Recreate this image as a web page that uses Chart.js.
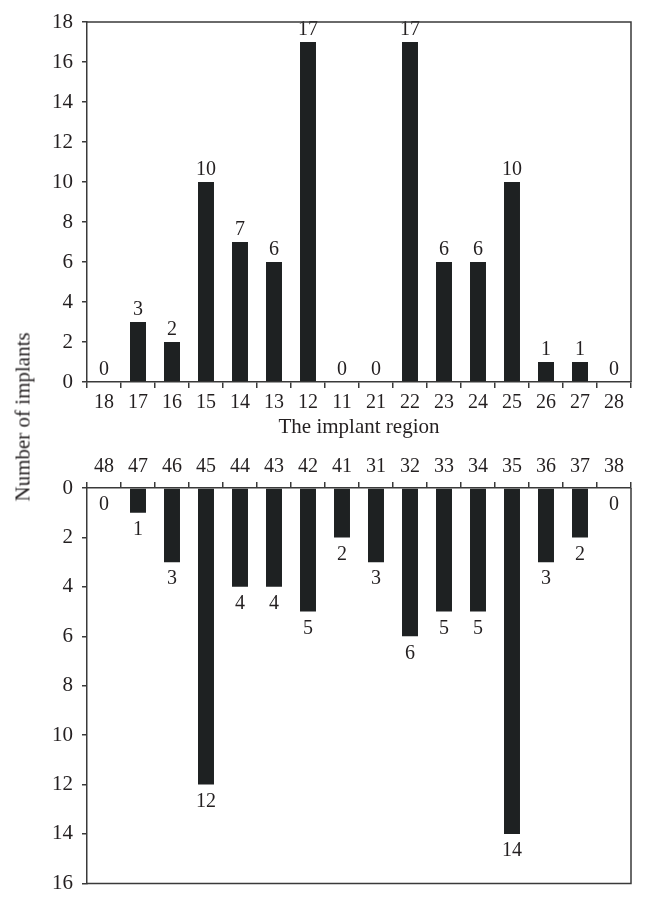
<!DOCTYPE html>
<html>
<head>
<meta charset="utf-8">
<script src="https://cdn.jsdelivr.net/npm/chart.js@4/dist/chart.umd.min.js"></script>
<style>
  html, body { margin:0; padding:0; background:#fff; }
  #wrap { position:relative; width:646px; height:905px; overflow:hidden; }
  #top { position:absolute; left:0; top:0; width:646px; height:445px; }
  #bot { position:absolute; left:0; top:445px; width:646px; height:460px; }
  #ytitle { position:absolute; left:23px; top:417px; transform:translate(-50%,-50%) rotate(-90deg);
    font-family:"Liberation Serif", serif; font-size:21px; color:#231f20; white-space:nowrap; }
</style>
</head>
<body>
<div id="wrap">
  <div id="top"><canvas id="c1"></canvas></div>
  <div id="bot"><canvas id="c2"></canvas></div>
  <div id="ytitle">Number of implants</div>
</div>
<script>
const upperRegions = ["18","17","16","15","14","13","12","11","21","22","23","24","25","26","27","28"];
const upperCounts  = [0, 3, 2, 10, 7, 6, 17, 0, 0, 17, 6, 6, 10, 1, 1, 0];
const lowerRegions = ["48","47","46","45","44","43","42","41","31","32","33","34","35","36","37","38"];
const lowerCounts  = [0, 1, 3, 12, 4, 4, 5, 2, 3, 6, 5, 5, 14, 3, 2, 0];
const upperTicks = [0, 2, 4, 6, 8, 10, 12, 14, 16, 18];
const lowerTicks = [0, 2, 4, 6, 8, 10, 12, 14, 16];

const FONT = '"Liberation Serif", serif';
const INK = '#231f20';
const BAR = '#1e2122';
const AXIS = '#3a3a3a';

const valueLabels = {
  id: 'valueLabels',
  afterDatasetsDraw(chart, args, opts) {
    const ctx = chart.ctx;
    const meta = chart.getDatasetMeta(0);
    const data = chart.data.datasets[0].data;
    ctx.save();
    ctx.font = '20px ' + FONT;
    ctx.fillStyle = INK;
    ctx.textAlign = 'center';
    ctx.textBaseline = 'middle';
    meta.data.forEach((bar, i) => {
      const y = opts.below ? bar.y + 17 : bar.y - 12;
      ctx.fillText(String(data[i]), bar.x, y);
    });
    ctx.restore();
  }
};

const frame = {
  id: 'frame',
  afterDraw(chart, args, opts) {
    const a = chart.chartArea;
    const ctx = chart.ctx;
    ctx.save();
    ctx.strokeStyle = AXIS;
    ctx.lineWidth = 1.5;
    ctx.beginPath();
    if (opts.below) {
      ctx.moveTo(a.left, a.bottom); ctx.lineTo(a.right, a.bottom); ctx.lineTo(a.right, a.top);
    } else {
      ctx.moveTo(a.left, a.top); ctx.lineTo(a.right, a.top); ctx.lineTo(a.right, a.bottom);
    }
    ctx.stroke();
    ctx.restore();
  }
};

function makeChart(id, labels, values, ticks, below) {
  return new Chart(document.getElementById(id), {
    type: 'bar',
    data: { labels: labels, datasets: [{ data: values, backgroundColor: BAR, borderWidth: 0,
      barPercentage: 0.47, categoryPercentage: 1.0 }] },
    options: {
      responsive: true, maintainAspectRatio: false, animation: false,
      layout: { padding: below ? { left: 0, right: 15, top: 0, bottom: 18 } : { left: 0, right: 15, top: 22, bottom: 0 } },
      plugins: { legend: { display: false }, tooltip: { enabled: false },
        valueLabels: { below: below }, frame: { below: below } },
      scales: {
        x: {
          position: below ? 'top' : 'bottom',
          grid: { offset: true, drawOnChartArea: false, drawTicks: true, tickLength: 6, color: AXIS, lineWidth: 1.5 },
          border: { display: true, color: AXIS, width: 1.5 },
          ticks: { color: INK, font: { family: FONT, size: 20 }, padding: 3, maxRotation: 0, autoSkip: false },
          title: below ? { display: false } : { display: true, text: 'The implant region', color: INK,
            font: { family: FONT, size: 21 }, padding: { top: 5, bottom: 5 } },
          afterFit(s) { s.height = below ? 43 : 63; }
        },
        y: {
          min: 0, max: ticks[ticks.length - 1], reverse: below,
          afterBuildTicks(s) { s.ticks = ticks.map(v => ({ value: v })); },
          grid: { drawOnChartArea: false, drawTicks: true, tickLength: 5, color: AXIS, lineWidth: 1.5 },
          border: { display: true, color: AXIS, width: 1.5 },
          ticks: { color: INK, font: { family: FONT, size: 21 }, padding: 9 },
          afterFit(s) { s.width = 87; }
        }
      }
    },
    plugins: [valueLabels, frame]
  });
}

makeChart('c1', upperRegions, upperCounts, upperTicks, false);
makeChart('c2', lowerRegions, lowerCounts, lowerTicks, true);
</script>
</body>
</html>
